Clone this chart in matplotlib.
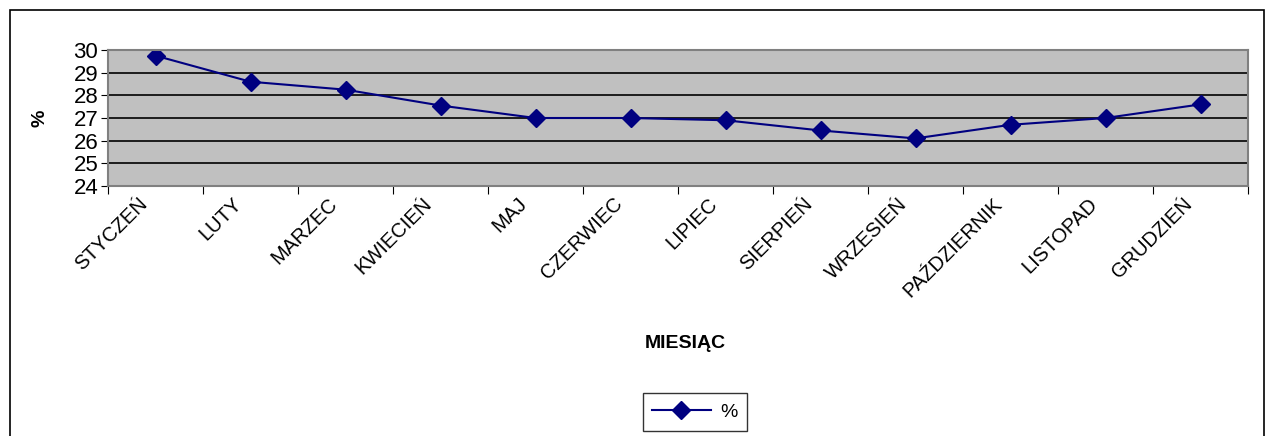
import matplotlib.pyplot as plt
from matplotlib.patches import Rectangle
from matplotlib.transforms import ScaledTranslation

# Dane
miesiace = ['STYCZEŃ', 'LUTY', 'MARZEC', 'KWIECIEŃ', 'MAJ', 'CZERWIEC',
            'LIPIEC', 'SIERPIEŃ', 'WRZESIEŃ', 'PAŹDZIERNIK', 'LISTOPAD', 'GRUDZIEŃ']
wartosci = [29.75, 28.6, 28.25, 27.55, 27.0, 27.0, 26.9, 26.45, 26.1, 26.7, 27.0, 27.6]
y_ticks = [24, 25, 26, 27, 28, 29, 30]

plt.rcParams['font.family'] = ['Liberation Sans', 'DejaVu Sans']

fig = plt.figure(figsize=(12.74, 4.36), dpi=100)
ax = fig.add_axes([108 / 1274, 1 - 186 / 436, 1140 / 1274, 136 / 436])

# Ramka wykresu
fig.patches.append(Rectangle((10 / 1274, -0.1), 1254 / 1274, 1 - 10 / 436 + 0.1,
                             transform=fig.transFigure, fill=False,
                             edgecolor='black', linewidth=1.2))

ax.set_facecolor('#C0C0C0')
x = list(range(len(miesiace)))
ax.plot(x, wartosci, color='#000080', linewidth=1.5, marker='D',
        markersize=9, markerfacecolor='#000080', markeredgecolor='#000080', label='%')

ax.set_xlim(-0.5, len(miesiace) - 0.5)
ax.set_ylim(24, 30)
ax.set_yticks(y_ticks)
ax.grid(axis='y', color='black', linewidth=1.2)
ax.set_axisbelow(True)

ax.set_xticks([i - 0.5 for i in range(len(miesiace) + 1)])
ax.set_xticklabels([])
ax.set_xticks(x, minor=True)
ax.set_xticklabels(miesiace, minor=True, rotation=45, ha='right',
                   rotation_mode='anchor', fontsize=14.5)
ax.tick_params(axis='x', which='minor', length=0, pad=6)
ax.tick_params(axis='x', which='major', length=6, color='black')
ax.tick_params(axis='y', labelsize=16, length=5, pad=2)

# etykiety lekko w lewo, jak w Excelu
przesuniecie = ScaledTranslation(-0.18, 0, fig.dpi_scale_trans)
for lab in ax.get_xticklabels(minor=True):
    lab.set_transform(lab.get_transform() + przesuniecie)

for s in ['top', 'right', 'left', 'bottom']:
    ax.spines[s].set_color('#808080')
    ax.spines[s].set_linewidth(1.5)

ax.set_ylabel('%', fontsize=14, fontweight='bold', labelpad=18)
fig.text(685 / 1274, 1 - 343 / 436, 'MIESIĄC', fontsize=14, fontweight='bold',
         ha='center', va='center')

leg = ax.legend(loc='center', bbox_to_anchor=(695 / 1274, 1 - 412 / 436),
                bbox_transform=fig.transFigure, fontsize=14, frameon=True,
                fancybox=False, edgecolor='black', handlelength=3.0,
                handletextpad=0.5, borderpad=0.5)
leg.get_frame().set_linewidth(1)

fig.savefig('out.png', dpi=100)
